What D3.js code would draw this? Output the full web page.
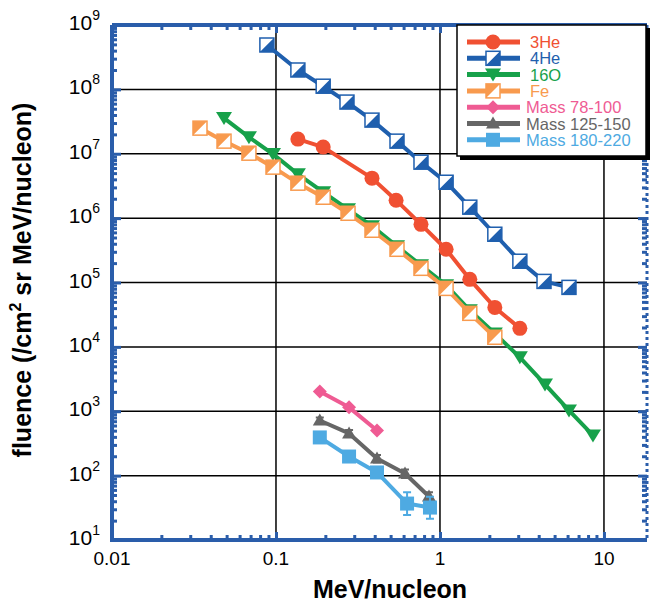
<!DOCTYPE html>
<html><head><meta charset="utf-8">
<script src="https://cdn.jsdelivr.net/npm/d3@7/dist/d3.min.js"></script>
<style>body{margin:0;background:#fff}svg{display:block;font-family:"Liberation Sans",Arial,Helvetica,sans-serif}</style>
</head><body><svg id="c" width="650" height="606"></svg>
<script>
// ---------- data ----------
const he3X = [0.136,0.194,0.385,0.54,0.766,1.09,1.52,2.16,3.07];
const he3Y = [1.69e7,1.27e7,4.18e6,1.90e6,8.0e5,3.28e5,1.12e5,4.1e4,1.94e4];
const he4X = [0.088,0.136,0.194,0.271,0.385,0.547,0.766,1.09,1.52,2.16,3.07,4.31,6.12];
const he4Y = [4.89e8,2.0e8,1.12e8,6.35e7,3.33e7,1.57e7,7.4e6,3.61e6,1.48e6,5.62e5,2.14e5,1.04e5,8.4e4];
const o16X = [0.0482,0.0684,0.0959,0.136,0.194,0.275,0.385,0.547,0.766,1.09,1.52,2.16,3.07,4.37,6.12,8.57];
const o16Y = [3.58e7,1.81e7,9.9e6,4.82e6,2.53e6,1.37e6,7.5e5,3.66e5,1.85e5,9.1e4,3.7e4,1.62e4,6.87e3,2.61e3,1.03e3,421];
const feX = [0.0344,0.0482,0.0684,0.0959,0.136,0.194,0.275,0.385,0.547,0.766,1.09,1.52,2.16];
const feY = [2.50e7,1.57e7,1.02e7,6.19e6,3.49e6,2.11e6,1.19e6,6.48e5,3.28e5,1.66e5,8.1e4,3.32e4,1.41e4];
const m78X = [0.185,0.279,0.413];
const m78Y = [2030,1150,502];
const m125X = [0.185,0.279,0.413,0.612,0.857];
const m125Y = [719,452,185,108,47.3];
const m125Lo = [640,400,160,92,40];
const m125Hi = [800,510,210,125,55];
const m180X = [0.185,0.279,0.413,0.63,0.869];
const m180Y = [392,198,112,36.8,31.9];
const m180Lo = [392,198,112,24.5,21.4];
const m180Hi = [392,198,112,55,47];
const seriesNames = ["3He","4He","16O","Fe","Mass 78-100","Mass 125-150","Mass 180-220"];
const seriesColors = ["#f05032","#1f5fae","#17a14a","#f89a4e","#ef5b93","#666666","#4eaae2"];
const xTickVals = [0.01,0.1,1,10];
const xTickLabels = ["0.01","0.1","1","10"];
const yTickExps = [1,2,3,4,5,6,7,8,9];
const xLabel = "MeV/nucleon";

// ---------- layout ----------
const svg = d3.select("#c");
const L=112, R=647, T=25, B=540;
const x = d3.scaleLog().domain([0.01,18.3]).range([L,R]);
const y = d3.scaleLog().domain([10,1e9]).range([B,T]);
const frameCol = "#2a5daa";

// gridlines
const g = svg.append("g");
g.selectAll(".gx").data([0.1,1,10]).join("line")
  .attr("x1",d=>x(d)).attr("x2",d=>x(d)).attr("y1",T).attr("y2",B)
  .attr("stroke","#000").attr("stroke-width",1.5);
g.selectAll(".gy").data(yTickExps.slice(1,-1)).join("line")
  .attr("y1",d=>y(Math.pow(10,d))).attr("y2",d=>y(Math.pow(10,d))).attr("x1",L).attr("x2",R)
  .attr("stroke","#000").attr("stroke-width",1.5);

// ticks via d3 axes
const xMinor = x.ticks(30);
const yMinor = y.ticks(60);
function styleAxis(sel){
  sel.select(".domain").remove();
  sel.selectAll("text").remove();
  sel.selectAll("line").attr("stroke",frameCol).attr("stroke-width",3);
}
const isMajor = v => Math.abs(Math.log10(v)-Math.round(Math.log10(v)))<1e-6;
svg.append("g").attr("transform",`translate(0,${B})`)
  .call(d3.axisTop(x).tickValues(xMinor).tickSize(0).tickFormat(""))
  .call(styleAxis).selectAll("line").attr("y2",d=>isMajor(d)?-8:-5);
svg.append("g").attr("transform",`translate(0,${T})`)
  .call(d3.axisBottom(x).tickValues(xMinor).tickSize(0).tickFormat(""))
  .call(styleAxis).selectAll("line").attr("y2",d=>isMajor(d)?8:5);
svg.append("g").attr("transform",`translate(${L},0)`)
  .call(d3.axisRight(y).tickValues(yMinor).tickSize(0).tickFormat(""))
  .call(styleAxis).selectAll("line").attr("x2",d=>isMajor(d)?9:5);
svg.append("g").attr("transform",`translate(${R},0)`)
  .call(d3.axisLeft(y).tickValues(yMinor).tickSize(0).tickFormat(""))
  .call(styleAxis).selectAll("line").attr("x2",d=>isMajor(d)?-9:-5);

// frame
svg.append("path").attr("d",`M${L},${T}H${R}M${L},${T}V${B}H${R}`)
  .attr("fill","none").attr("stroke",frameCol).attr("stroke-width",4);
svg.append("line").attr("x1",R).attr("x2",R).attr("y1",T).attr("y2",B)
  .attr("stroke",frameCol).attr("stroke-width",3).attr("stroke-dasharray","3,3");

// tick labels
svg.append("g").selectAll("text").data(xTickVals).join("text")
  .attr("x",d=>x(d)).attr("y",B+25).attr("text-anchor","middle")
  .attr("font-size",19).text((d,i)=>xTickLabels[i]);
const yl = svg.append("g").selectAll("text").data(yTickExps).join("text")
  .attr("x",100).attr("y",d=>y(Math.pow(10,d))+5).attr("text-anchor","end").attr("font-size",21);
yl.append("tspan").text("10");
yl.append("tspan").attr("dy",-10).attr("font-size",14).text(d=>d);

// axis titles
svg.append("text").attr("x",390).attr("y",598).attr("text-anchor","middle")
  .attr("font-size",25).attr("font-weight","bold").text(xLabel);
const yt = svg.append("text").attr("transform","translate(31,280) rotate(-90)")
  .attr("text-anchor","middle").attr("font-size",25).attr("font-weight","bold");
yt.append("tspan").text("fluence (/cm");
yt.append("tspan").attr("dy",-10).attr("font-size",16).text("2");
yt.append("tspan").attr("dy",10).text(" sr MeV/nucleon)");

// ---------- markers ----------
function marker(sel, type, col){
  if(type==="circle"){ sel.append("circle").attr("r",7.5).attr("fill",col); }
  else if(type==="halfLR" || type==="halfUL"){
    const h=7;
    sel.append("rect").attr("x",-h).attr("y",-h).attr("width",2*h).attr("height",2*h)
      .attr("fill","#fff").attr("stroke",col).attr("stroke-width",1.5);
    if(type==="halfLR") sel.append("path").attr("d",`M${-h},${h}L${h},${-h}L${h},${h}Z`).attr("fill",col);
    else sel.append("path").attr("d",`M${-h},${h}L${-h},${-h}L${h},${-h}Z`).attr("fill",col);
  }
  else if(type==="tdown"){ sel.append("path").attr("d","M-8,-6L8,-6L0,7Z").attr("fill",col); }
  else if(type==="tup"){ sel.append("path").attr("d","M-7,5L7,5L0,-7Z").attr("fill",col); }
  else if(type==="diamond"){ sel.append("path").attr("d","M0,-7L7,0L0,7L-7,0Z").attr("fill",col); }
  else if(type==="square"){ sel.append("rect").attr("x",-7).attr("y",-7).attr("width",14).attr("height",14).attr("fill",col); }
}
const series = [
  {xs:he3X, ys:he3Y, type:"circle"},
  {xs:he4X, ys:he4Y, type:"halfLR"},
  {xs:o16X, ys:o16Y, type:"tdown"},
  {xs:feX, ys:feY, type:"halfUL"},
  {xs:m78X, ys:m78Y, type:"diamond"},
  {xs:m125X, ys:m125Y, type:"tup", lo:m125Lo, hi:m125Hi},
  {xs:m180X, ys:m180Y, type:"square", lo:m180Lo, hi:m180Hi}
];
const line = d3.line().x(d=>x(d[0])).y(d=>y(d[1]));
const drawOrder = [1,2,0,3,4,5,6];
drawOrder.forEach(i=>{
  const s = series[i], col = seriesColors[i];
  const pts = s.xs.map((v,j)=>[v,s.ys[j]]);
  const sg = svg.append("g");
  sg.append("path").datum(pts).attr("d",line).attr("fill","none")
    .attr("stroke",col).attr("stroke-width",4).attr("stroke-linejoin","round");
  if(s.lo){
    s.xs.forEach((v,j)=>{
      if(s.lo[j]===s.hi[j]) return;
      const cx=x(v), y1=y(s.lo[j]), y2=y(s.hi[j]);
      sg.append("path").attr("d",`M${cx},${y1}V${y2}M${cx-4},${y1}H${cx+4}M${cx-4},${y2}H${cx+4}`)
        .attr("stroke",col).attr("stroke-width",2).attr("fill","none");
    });
  }
  pts.forEach(p=>{
    const m = sg.append("g").attr("transform",`translate(${x(p[0])},${y(p[1])})`);
    marker(m, s.type, col);
  });
});

// ---------- legend ----------
const lg = svg.append("g");
lg.append("rect").attr("x",460).attr("y",28).attr("width",190).attr("height",132).attr("fill","#000");
lg.append("rect").attr("x",457).attr("y",25).attr("width",189).attr("height",131)
  .attr("fill","#fff").attr("stroke","#000").attr("stroke-width",1.5);
seriesNames.forEach((n,i)=>{
  const yy = 42 + i*16.3, col = seriesColors[i];
  lg.append("line").attr("x1",467).attr("x2",520).attr("y1",yy).attr("y2",yy)
    .attr("stroke",col).attr("stroke-width",5);
  const m = lg.append("g").attr("transform",`translate(493,${yy})`);
  marker(m, series[i].type, col);
  lg.append("text").attr("x",i<4?530:526).attr("y",yy+6).attr("font-size",16.5)
    .attr("fill",col).text(n);
});
</script></body></html>
